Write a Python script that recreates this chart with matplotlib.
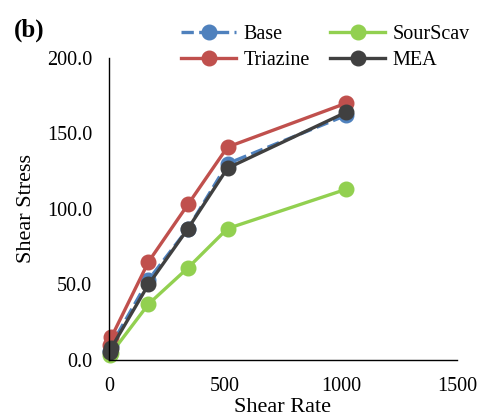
import matplotlib
matplotlib.use("Agg")
import matplotlib.pyplot as plt
from matplotlib.ticker import FormatStrFormatter

plt.rcParams['font.family'] = ['Liberation Serif', 'DejaVu Serif']

shear_rate = [5.11, 10.22, 170.3, 340.6, 510.9, 1021.8]
base = [6, 10, 53, 87, 130, 162]
triazine = [10, 15, 65, 103, 141, 170]
sourscav = [3, 4.5, 37, 61, 87, 113]
mea = [5, 8, 50, 87, 127, 164]

series = [
    ("Base", base, "#4F81BD", "--"),
    ("Triazine", triazine, "#C0504D", "-"),
    ("SourScav", sourscav, "#92D050", "-"),
    ("MEA", mea, "#404040", "-"),
]

fig = plt.figure(figsize=(4.78, 4.20), dpi=100)
ax = fig.add_axes([0.228, 0.143, 0.728, 0.719])

for name, vals, color, ls in series:
    ax.plot(shear_rate, vals, linestyle=ls, color=color, marker='o',
            markersize=10.5, linewidth=2.4, label=name, clip_on=False)

ax.set_xlim(0, 1500)
ax.set_ylim(0, 200)
ax.set_xticks([0, 500, 1000, 1500])
ax.set_yticks([0, 50, 100, 150, 200])
ax.yaxis.set_major_formatter(FormatStrFormatter('%.1f'))
ax.tick_params(axis='y', length=0, labelsize=14.5, pad=12)
ax.tick_params(axis='x', length=0, labelsize=14.5, pad=12)
for s in ['top', 'right']:
    ax.spines[s].set_visible(False)
for s in ['left', 'bottom']:
    ax.spines[s].set_linewidth(1.0)
    ax.spines[s].set_color('black')

ax.set_xlabel("Shear Rate", fontsize=16, labelpad=2)
ax.set_ylabel("Shear Stress", fontsize=16, labelpad=8)

fig.text(0.03, 0.928, "(b)", fontsize=18, fontweight='bold', ha='left', va='center')

ax.legend(loc='upper left', bbox_to_anchor=(181 / 478, 1 - 25 / 420),
          bbox_transform=fig.transFigure, ncol=2, frameon=False,
          fontsize=14.5, handlelength=2.75, columnspacing=1.0, labelspacing=0.35,
          handletextpad=0.35, borderaxespad=0, borderpad=0)

fig.savefig("out.png", dpi=100)
